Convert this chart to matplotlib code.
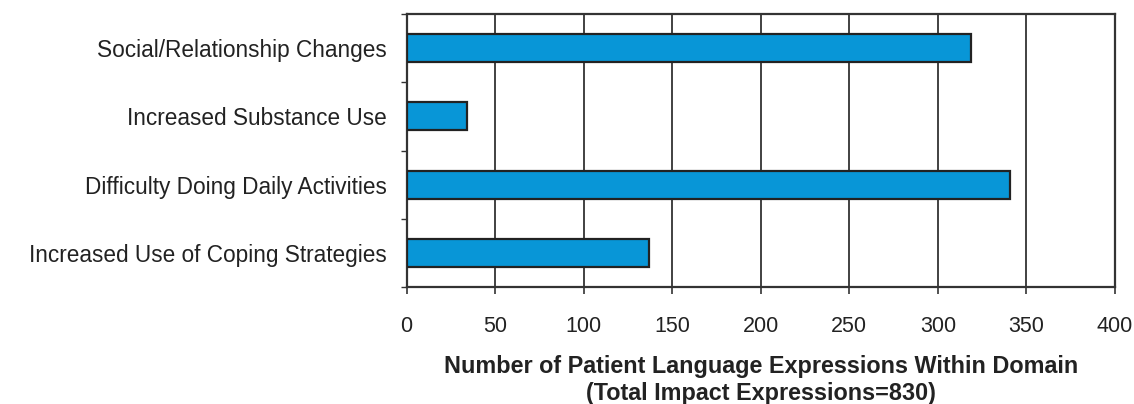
import numpy as np
import matplotlib.pyplot as plt

categories = ['Social/Relationship Changes', 'Increased Substance Use',
              'Difficulty Doing Daily Activities', 'Increased Use of Coping Strategies']
counts = [319, 34, 341, 137]
x_ticks = [0, 50, 100, 150, 200, 250, 300, 350, 400]

bar_color = '#0896d7'
dark = '#333333'

plt.rcParams['font.family'] = ['Liberation Sans', 'DejaVu Sans']

fig = plt.figure(figsize=(11.34, 4.04), dpi=100)
ax = fig.add_axes([0.3585, 0.2896, 0.9832 - 0.3585, 0.9653 - 0.2896])

y = np.arange(len(categories))
ax.barh(y, counts, height=0.41, color=bar_color, edgecolor='#222222', linewidth=1.6, zorder=3)

ax.set_xlim(0, 400)
ax.set_ylim(len(categories) - 0.5, -0.5)
ax.set_xticks(x_ticks)
ax.set_xticklabels([str(v) for v in x_ticks], fontsize=15.5)
ax.set_yticks(y)
ax.set_yticklabels(categories, fontsize=16.3)
ax.set_yticks(np.arange(-0.5, len(categories)), minor=True)
ax.tick_params(axis='y', which='major', length=0, pad=14, colors='#222222')
ax.tick_params(axis='y', which='minor', length=4, width=1, color=dark)
ax.tick_params(axis='x', length=5, width=1.2, color=dark, pad=16, colors='#222222')

ax.grid(axis='x', color=dark, linewidth=1.3, zorder=0)
for s in ax.spines.values():
    s.set_color(dark)
    s.set_linewidth(1.6)

ax.set_xlabel('Number of Patient Language Expressions Within Domain\n(Total Impact Expressions=830)',
              fontsize=16.8, fontweight='bold', labelpad=13,
              color='#222222', linespacing=1.2)

fig.savefig('out.png', dpi=100)
